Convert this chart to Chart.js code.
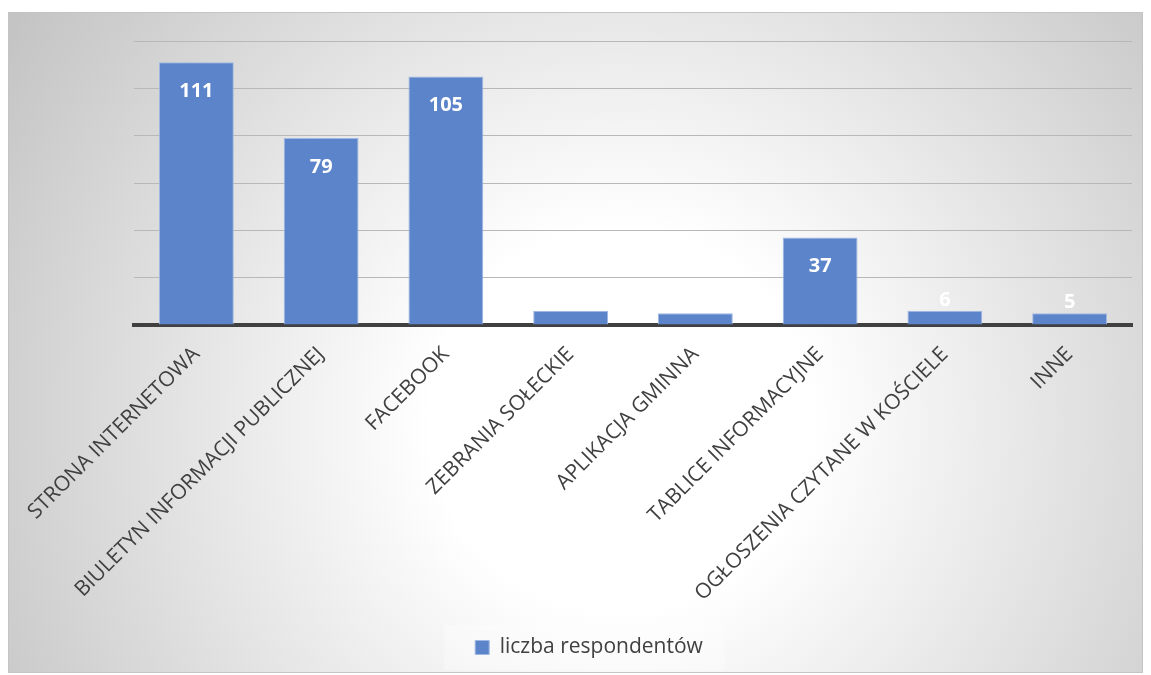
<!DOCTYPE html>
<html>
<head>
<meta charset="utf-8">
<script src="https://cdn.jsdelivr.net/npm/chart.js@4"></script>
<style>
  body { margin: 0; background: #fff; }
  #wrap { width: 1151px; height: 675px; }
</style>
</head>
<body>
<div id="wrap"><canvas id="kanaly"></canvas></div>
<script>
const categories = [
    'STRONA INTERNETOWA',
    'BIULETYN INFORMACJI PUBLICZNEJ',
    'FACEBOOK',
    'ZEBRANIA SOŁECKIE',
    'APLIKACJA GMINNA',
    'TABLICE INFORMACYJNE',
    'OGŁOSZENIA CZYTANE W KOŚCIELE',
    'INNE'
];
const respondenci = [111, 79, 105, 6, 5, 37, 6, 5];
const seriesName = 'liczba respondentów';
const yMax = 120;
const yStep = 20;

const barColor = '#5b84ca';
const textColor = '#404040';

// tlo wykresu: gradient radialny + ramka
const tloPlugin = {
    id: 'tlo',
    beforeDraw(chart) {
        const ctx = chart.ctx;
        ctx.save();
        const g = ctx.createRadialGradient(620, 420, 0, 620, 420, 760);
        g.addColorStop(0, '#ffffff');
        g.addColorStop(0.25, '#ffffff');
        g.addColorStop(1, '#c0c0c0');
        ctx.fillStyle = g;
        ctx.fillRect(8, 12, 1135, 661);
        ctx.strokeStyle = '#c4c4c4';
        ctx.lineWidth = 1;
        ctx.strokeRect(8.5, 12.5, 1134, 660);
        // jasniejsze pole legendy
        const lg = chart.legend;
        if (lg && lg.legendHitBoxes && lg.legendHitBoxes.length) {
            const hb = lg.legendHitBoxes[0];
            ctx.fillStyle = 'rgba(255,255,255,0.3)';
            ctx.fillRect(hb.left - 31, hb.top - 12, hb.width + 53, hb.height + 24);
        }
        ctx.restore();
    }
};

// etykiety wartosci na slupkach
const etykietyPlugin = {
    id: 'etykiety',
    afterDatasetsDraw(chart) {
        const ctx = chart.ctx;
        const meta = chart.getDatasetMeta(0);
        ctx.save();
        ctx.font = 'bold 20px "Open Sans"';
        ctx.fillStyle = '#ffffff';
        ctx.textAlign = 'center';
        ctx.textBaseline = 'middle';
        meta.data.forEach((bar, i) => {
            const h = bar.base - bar.y;
            const y = h > 40 ? bar.y + 29 : bar.y - 11;
            ctx.fillText(String(respondenci[i]), bar.x, y);
        });
        ctx.restore();
    }
};

const data = {
    labels: categories,
    datasets: [{
        label: seriesName,
        data: respondenci,
        backgroundColor: barColor,
        borderColor: '#9fb8e2',
        borderWidth: 1,
        barPercentage: 0.6,
        categoryPercentage: 1
    }]
};

const config = {
    type: 'bar',
    data: data,
    plugins: [tloPlugin, etykietyPlugin],
    options: {
        responsive: true,
        maintainAspectRatio: false,
        animation: false,
        layout: {
            padding: { left: 46, right: 19, top: 41, bottom: 7 }
        },
        plugins: {
            tooltip: { enabled: false },
            legend: {
                position: 'bottom',
                labels: {
                    color: textColor,
                    font: { family: '"Open Sans"', size: 21 },
                    boxWidth: 14,
                    boxHeight: 14,
                    padding: 10
                }
            }
        },
        scales: {
            x: {
                grid: { display: false, drawTicks: false },
                border: { display: true, color: textColor, width: 4 },
                ticks: {
                    color: textColor,
                    font: { family: '"Open Sans"', size: 21 },
                    minRotation: 45,
                    maxRotation: 45,
                    autoSkip: false,
                    padding: 17
                },
                afterFit(scale) {
                    const lg = scale.chart.legend;
                    const lh = lg ? lg.height : 0;
                    scale.height = scale.chart.height - 325 - lh - 7;
                }
            },
            y: {
                min: 0,
                max: yMax,
                ticks: { display: false, stepSize: yStep },
                grid: { color: '#b8b8b8', lineWidth: 1, drawTicks: false },
                border: { display: false },
                afterFit(scale) {
                    scale.width = 88;
                }
            }
        }
    }
};

const wykres = new Chart(document.getElementById('kanaly'), config);
</script>
</body>
</html>
